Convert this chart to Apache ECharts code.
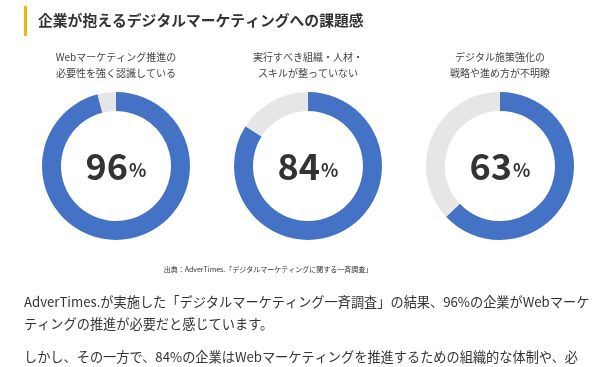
<!DOCTYPE html>
<html><head><meta charset="utf-8">
<script src="https://cdn.jsdelivr.net/npm/echarts@6/dist/echarts.min.js"></script>
<style>html,body{margin:0;padding:0;background:#fff}#c{width:600px;height:367px}</style>
</head><body><div id="c"></div>
<script>
const title = '企業が抱えるデジタルマーケティングへの課題感';
const categories = [
  ['Webマーケティング推進の', '必要性を強く認識している'],
  ['実行すべき組織・人材・', 'スキルが整っていない'],
  ['デジタル施策強化の', '戦略や進め方が不明瞭']
];
const percents = [96, 84, 63];
const source = '出典：AdverTimes.「デジタルマーケティングに関する一斉調査」';
const paragraphLines = [
  'AdverTimes.が実施した「デジタルマーケティング一斉調査」の結果、96%の企業がWebマーケ',
  'ティングの推進が必要だと感じています。',
  'しかし、その一方で、84%の企業はWebマーケティングを推進するための組織的な体制や、必'
];

const FONT = '"Noto Sans CJK JP","Noto Sans",sans-serif';
const centersX = [116, 308, 500];
const centerY = 166;

const series = percents.map((p, i) => ({
  type: 'pie',
  center: [centersX[i], centerY],
  radius: [55, 74],
  startAngle: 90,
  clockwise: true,
  silent: true,
  animation: false,
  labelLine: { show: false },
  data: [
    { value: p, itemStyle: { color: '#4472c4' },
      label: { show: true, position: 'center',
        formatter: '{n|' + p + '}{u|%}',
        rich: {
          n: { fontSize: 36, fontWeight: 'bold', color: '#333', fontFamily: FONT },
          u: { fontSize: 18, fontWeight: 'bold', color: '#333', fontFamily: FONT, padding: [8, 0, 0, 1] }
        } } },
    { value: 100 - p, itemStyle: { color: '#e6e6e6' }, label: { show: false } }
  ]
}));

const graphics = [
  { type: 'rect', shape: { x: 24, y: 6, width: 3, height: 30 }, style: { fill: '#f2b705' } },
  { type: 'text', x: 38, y: 20, style: { text: title, fontSize: 14.8, fontWeight: 'bold', fill: '#333', fontFamily: FONT, textVerticalAlign: 'middle' } },
  { type: 'text', x: 268, y: 269, style: { text: source, fontSize: 7, fill: '#333', fontFamily: FONT, textAlign: 'center', textVerticalAlign: 'middle' } }
];
categories.forEach((lines, i) => {
  lines.forEach((t, j) => {
    graphics.push({ type: 'text', x: centersX[i], y: 57 + j * 16,
      style: { text: t, fontSize: 10, fill: '#444', fontFamily: FONT, textAlign: 'center', textVerticalAlign: 'middle' } });
  });
});
const paraY = [302, 324, 357];
paragraphLines.forEach((t, j) => {
  graphics.push({ type: 'text', x: 24, y: paraY[j],
    style: { text: t, fontSize: 13.2, fill: '#333', fontFamily: FONT, textVerticalAlign: 'middle' } });
});

const chart = echarts.init(document.getElementById('c'), null, { renderer: 'canvas' });
chart.setOption({ animation: false, series: series, graphic: graphics });
</script></body></html>
